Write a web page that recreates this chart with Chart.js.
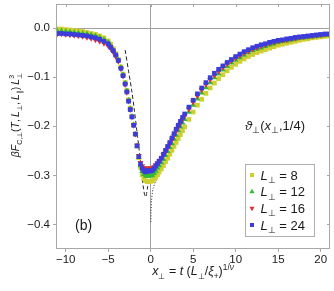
<!DOCTYPE html>
<html>
<head>
<meta charset="utf-8">
<script src="https://cdn.jsdelivr.net/npm/chart.js@4.4.1/dist/chart.umd.min.js"></script>
<style>
  html, body { margin: 0; padding: 0; background: #fff; }
  #caixa { width: 334px; height: 291px; position: relative; }
</style>
</head>
<body>
<div id="caixa"><canvas id="grafico"></canvas></div>
<script>
// valores de x_perp (comuns as quatro series)
var xVals = [-11, -10.5, -10, -9.5, -9, -8.5, -8, -7.5, -7, -6.5, -6, -5.5, -5,
    -4.7, -4.4, -4.1, -3.8, -3.5, -3.25, -3.0, -2.8, -2.6, -2.4, -2.2, -2.0, -1.8, -1.6, -1.4, -1.2, -1.0,
    -0.8, -0.6, -0.4, -0.2, 0, 0.2, 0.4, 0.6, 0.8, 1.0,
    1.25, 1.5, 1.75, 2, 2.25, 2.5, 2.75, 3, 3.25, 3.5, 3.75, 4,
    4.5, 5, 5.5, 6, 6.5, 7, 7.5, 8, 8.5, 9, 9.5, 10, 10.5, 11, 11.5, 12, 12.5, 13,
    13.5, 14, 14.5, 15, 15.5, 16, 16.5, 17, 17.5, 18, 18.5, 19, 19.5, 20, 20.5, 21];

var yL8 = [-0.002, -0.002, -0.003, -0.004, -0.005, -0.006, -0.007, -0.009, -0.011, -0.013, -0.016, -0.020, -0.026,
    -0.033, -0.042, -0.052, -0.064, -0.079, -0.094, -0.111, -0.127, -0.146, -0.163, -0.180, -0.197, -0.216, -0.240, -0.264, -0.284, -0.299,
    -0.307, -0.311, -0.313, -0.313, -0.312, -0.311, -0.308, -0.304, -0.299, -0.293,
    -0.287, -0.280, -0.272, -0.265, -0.257, -0.249, -0.241, -0.233, -0.225, -0.217, -0.209, -0.201,
    -0.186, -0.171, -0.157, -0.145, -0.133, -0.122, -0.112, -0.103, -0.095, -0.087, -0.080, -0.074, -0.068, -0.063, -0.058, -0.054, -0.050, -0.047,
    -0.044, -0.041, -0.038, -0.035, -0.033, -0.031, -0.029, -0.027, -0.025, -0.023, -0.022, -0.020, -0.019, -0.018, -0.017, -0.016];

var yL12 = [-0.006, -0.006, -0.007, -0.008, -0.009, -0.010, -0.011, -0.012, -0.014, -0.016, -0.019, -0.023, -0.029,
    -0.036, -0.045, -0.055, -0.065, -0.080, -0.095, -0.112, -0.128, -0.147, -0.164, -0.180, -0.197, -0.216, -0.240, -0.263, -0.280, -0.292,
    -0.298, -0.301, -0.302, -0.301, -0.301, -0.300, -0.296, -0.291, -0.285, -0.280,
    -0.274, -0.267, -0.259, -0.251, -0.243, -0.235, -0.226, -0.218, -0.209, -0.201, -0.193, -0.186,
    -0.171, -0.157, -0.144, -0.132, -0.121, -0.111, -0.101, -0.093, -0.085, -0.078, -0.071, -0.065, -0.060, -0.055, -0.050, -0.046, -0.043, -0.040,
    -0.037, -0.034, -0.032, -0.029, -0.027, -0.026, -0.024, -0.023, -0.021, -0.020, -0.019, -0.018, -0.017, -0.016, -0.015, -0.014];

var yL16 = [-0.012, -0.012, -0.013, -0.014, -0.015, -0.016, -0.017, -0.019, -0.021, -0.024, -0.027, -0.031, -0.036,
    -0.042, -0.049, -0.058, -0.068, -0.083, -0.098, -0.115, -0.131, -0.149, -0.166, -0.181, -0.198, -0.216, -0.239, -0.260, -0.274, -0.281,
    -0.285, -0.287, -0.285, -0.286, -0.286, -0.285, -0.283, -0.279, -0.275, -0.271,
    -0.266, -0.259, -0.252, -0.244, -0.236, -0.228, -0.219, -0.210, -0.202, -0.194, -0.186, -0.179,
    -0.165, -0.151, -0.138, -0.126, -0.115, -0.105, -0.096, -0.088, -0.080, -0.073, -0.067, -0.061, -0.056, -0.051, -0.047, -0.043, -0.040, -0.037,
    -0.034, -0.031, -0.029, -0.027, -0.025, -0.024, -0.022, -0.021, -0.019, -0.018, -0.017, -0.016, -0.015, -0.014, -0.013, -0.013];

var yL24 = [-0.011, -0.011, -0.012, -0.012, -0.013, -0.014, -0.015, -0.016, -0.018, -0.020, -0.023, -0.027, -0.032,
    -0.039, -0.046, -0.055, -0.066, -0.082, -0.097, -0.114, -0.130, -0.149, -0.166, -0.181, -0.198, -0.216, -0.240, -0.262, -0.277, -0.286,
    -0.291, -0.293, -0.290, -0.292, -0.291, -0.290, -0.286, -0.281, -0.276, -0.271,
    -0.265, -0.257, -0.249, -0.241, -0.233, -0.224, -0.215, -0.206, -0.198, -0.190, -0.182, -0.175,
    -0.161, -0.147, -0.134, -0.122, -0.111, -0.101, -0.092, -0.084, -0.077, -0.070, -0.064, -0.058, -0.053, -0.048, -0.044, -0.040, -0.037, -0.034,
    -0.032, -0.029, -0.027, -0.025, -0.024, -0.022, -0.021, -0.019, -0.018, -0.017, -0.016, -0.015, -0.014, -0.013, -0.012, -0.012];

// curvas assintoticas (tracejada e pontilhada)
var tracoX = [-3.0, -2.6, -2.24, -1.9, -1.65, -1.4, -1.2, -1.0, -0.85, -0.72, -0.6, -0.48, -0.35];
var tracoY = [-0.045, -0.088, -0.126, -0.170, -0.206, -0.242, -0.270, -0.305, -0.326, -0.339, -0.344, -0.337, -0.322];
var pontoX = [0.02, 0.05, 0.1, 0.2, 0.3, 0.45, 0.7, 1.0];
var pontoY = [-0.395, -0.370, -0.352, -0.335, -0.326, -0.318, -0.308, -0.298];

var xTicks = [-10, -5, 0, 5, 10, 15, 20];
var yTicks = [-0.4, -0.3, -0.2, -0.1, 0.0];
var series = ["8", "12", "16", "24"];

var FONTE = "'Liberation Sans', Arial, sans-serif";
var cores = ["#cfcf30", "#33bb33", "#dd3333", "#3c3cdc"];

function pontos(xs, ys) {
    return xs.map(function (x, i) { return { x: x, y: ys[i] }; });
}

// texto com italico, subscrito e sobrescrito
function fonteDe(p, tam) {
    var t = p.n ? tam * 0.66 : tam;
    return (p.i ? "italic " : "") + t.toFixed(1) + "px " + FONTE;
}
function larguraParte(ctx, p, tam) {
    ctx.font = fonteDe(p, tam);
    var w = ctx.measureText(p.t).width;
    if (p.sup2) {
        ctx.font = fonteDe({ n: 1 }, tam);
        w = Math.max(w, ctx.measureText(p.sup2).width);
    }
    return w;
}
function desenharRico(ctx, partes, x, y, tam, alinhar) {
    var total = 0;
    partes.forEach(function (p) { total += larguraParte(ctx, p, tam); });
    var cx = alinhar === "center" ? x - total / 2 : x;
    ctx.textAlign = "left";
    ctx.textBaseline = "alphabetic";
    partes.forEach(function (p) {
        var w = larguraParte(ctx, p, tam);
        ctx.font = fonteDe(p, tam);
        var dy = p.n === -1 ? tam * 0.28 : (p.n === 1 ? -tam * 0.42 : 0);
        ctx.fillText(p.t, cx, y + dy);
        if (p.sup2) {
            ctx.font = fonteDe({ n: 1 }, tam);
            ctx.fillText(p.sup2, cx, y - tam * 0.45);
        }
        cx += w;
    });
}

function marcador(ctx, tipo, x, y, cor) {
    ctx.fillStyle = cor;
    ctx.beginPath();
    if (tipo === "rect") {
        ctx.rect(x - 2, y - 2, 4, 4);
    } else if (tipo === "up") {
        ctx.moveTo(x, y - 3); ctx.lineTo(x + 2.6, y + 1.5); ctx.lineTo(x - 2.6, y + 1.5);
    } else {
        ctx.moveTo(x, y + 3); ctx.lineTo(x + 2.6, y - 1.5); ctx.lineTo(x - 2.6, y - 1.5);
    }
    ctx.closePath();
    ctx.fill();
}

var molduraETextos = {
    id: "molduraETextos",
    afterDraw: function (chart) {
        var ctx = chart.ctx;
        var a = chart.chartArea;
        var sx = chart.scales.x, sy = chart.scales.y;
        ctx.save();

        // moldura
        ctx.strokeStyle = "#a8a8a8";
        ctx.lineWidth = 1;
        ctx.strokeRect(a.left + 0.5, a.top + 0.5, a.right - a.left - 1, a.bottom - a.top - 1);

        // ticks para dentro em cima e a direita
        ctx.beginPath();
        xTicks.forEach(function (v) {
            var px = Math.round(sx.getPixelForValue(v)) + 0.5;
            ctx.moveTo(px, a.top); ctx.lineTo(px, a.top + 3);
        });
        yTicks.forEach(function (v) {
            var py = Math.round(sy.getPixelForValue(v)) + 0.5;
            ctx.moveTo(a.right, py); ctx.lineTo(a.right - 3, py);
        });
        ctx.stroke();

        ctx.fillStyle = "#1a1a1a";

        // titulo do eixo x
        desenharRico(ctx, [
            { t: "x", i: 1 }, { t: "\u22A5", n: -1 }, { t: " = " }, { t: "t", i: 1 }, { t: " (" },
            { t: "L", i: 1 }, { t: "\u22A5", n: -1 }, { t: "/" }, { t: "\u03BE", i: 1 }, { t: "+", n: -1 },
            { t: ")" }, { t: "1/", n: 1 }, { t: "\u03BD", n: 1, i: 1 }
        ], (a.left + a.right) / 2, 275, 12.5, "center");

        // titulo do eixo y (rodado)
        ctx.save();
        ctx.translate(15, 115);
        ctx.rotate(-Math.PI / 2);
        desenharRico(ctx, [
            { t: "\u03B2", i: 1 }, { t: "F", i: 1 }, { t: "C,\u22A5", n: -1 }, { t: "(" },
            { t: "T", i: 1 }, { t: ",\u2009" }, { t: "L", i: 1 }, { t: "\u22A5", n: -1 }, { t: ",\u2009" },
            { t: "L", i: 1 }, { t: "\u2225", n: -1 }, { t: ")\u2009" }, { t: "L", i: 1 },
            { t: "\u22A5", n: -1, sup2: "3" }
        ], 0, 4, 10.5, "center");
        ctx.restore();

        // anotacoes
        desenharRico(ctx, [
            { t: "\u03D1", i: 1 }, { t: "\u22A5", n: -1 }, { t: "(" }, { t: "x", i: 1 },
            { t: "\u22A5", n: -1 }, { t: ",1/4)" }
        ], 245, 129.5, 13, "left");
        desenharRico(ctx, [{ t: "(b)" }], 75, 230, 14, "left");

        // legenda
        ctx.fillStyle = "#fff";
        ctx.fillRect(245, 164, 69, 72);
        ctx.strokeStyle = "#b0b0b0";
        ctx.strokeRect(245.5, 164.5, 69, 72);
        var tipos = ["rect", "up", "down", "rect"];
        var linhasY = [175, 191.7, 208.3, 225];
        series.forEach(function (s, i) {
            marcador(ctx, tipos[i], 252, linhasY[i], cores[i]);
            ctx.fillStyle = "#1a1a1a";
            desenharRico(ctx, [{ t: "L", i: 1 }, { t: "\u22A5", n: -1 }, { t: " = " + s }],
                260.5, linhasY[i] + 4.5, 13, "left");
        });

        ctx.restore();
    }
};

function corGrade(c) {
    return c.tick && c.tick.value === 0 ? "#a0a0a0" : "rgba(0,0,0,0)";
}

new Chart(document.getElementById("grafico"), {
    type: "scatter",
    data: {
        datasets: [
            { label: "L = 8", data: pontos(xVals, yL8), backgroundColor: cores[0], borderColor: cores[0],
              pointStyle: "rect", pointRadius: 3.3, pointBorderWidth: 0, order: 4 },
            { label: "L = 12", data: pontos(xVals, yL12), backgroundColor: cores[1], borderColor: cores[1],
              pointStyle: "triangle", pointRadius: 3.4, pointBorderWidth: 0, order: 3 },
            { label: "L = 16", data: pontos(xVals, yL16), backgroundColor: cores[2], borderColor: cores[2],
              pointStyle: "triangle", rotation: 180, pointRotation: 180, pointRadius: 3.4, pointBorderWidth: 0, order: 2 },
            { label: "L = 24", data: pontos(xVals, yL24), backgroundColor: cores[3], borderColor: cores[3],
              pointStyle: "rect", pointRadius: 3.3, pointBorderWidth: 0, order: 1 },
            { label: "assintota -", data: pontos(tracoX, tracoY), showLine: true, pointRadius: 0,
              borderColor: "#222", borderWidth: 1, borderDash: [4, 2.5], tension: 0.3, order: 10 },
            { label: "assintota +", data: pontos(pontoX, pontoY), showLine: true, pointRadius: 0,
              borderColor: "#222", borderWidth: 1, borderDash: [1, 1.8], tension: 0.3, order: 10 }
        ]
    },
    options: {
        responsive: true,
        maintainAspectRatio: false,
        animation: false,
        layout: { padding: { left: 0, right: 4, top: 4, bottom: 0 } },
        plugins: {
            legend: { display: false },
            tooltip: { enabled: false }
        },
        scales: {
            x: {
                type: "linear",
                min: -11.14,
                max: 21.1,
                afterBuildTicks: function (s) { s.ticks = xTicks.map(function (v) { return { value: v }; }); },
                afterFit: function (s) { s.height = 42; s.paddingLeft = 0; s.paddingRight = 0; },
                border: { display: false },
                grid: { color: corGrade, tickColor: "#a8a8a8", tickLength: 3, drawTicks: true },
                ticks: {
                    color: "#1a1a1a",
                    font: { family: FONTE, size: 11.5 },
                    padding: 1,
                    maxRotation: 0,
                    callback: function (v) { return v < 0 ? "\u2212" + Math.abs(v) : String(v); }
                }
            },
            y: {
                type: "linear",
                min: -0.45,
                max: 0.049,
                afterBuildTicks: function (s) { s.ticks = yTicks.map(function (v) { return { value: v }; }); },
                afterFit: function (s) { s.width = 56; s.paddingTop = 0; s.paddingBottom = 0; },
                border: { display: false },
                grid: { color: corGrade, tickColor: "#a8a8a8", tickLength: 3, drawTicks: true },
                ticks: {
                    color: "#1a1a1a",
                    font: { family: FONTE, size: 11.5 },
                    padding: 3,
                    callback: function (v) { return (v < 0 ? "\u2212" : "") + Math.abs(v).toFixed(1); }
                }
            }
        }
    },
    plugins: [molduraETextos]
});
</script>
</body>
</html>
